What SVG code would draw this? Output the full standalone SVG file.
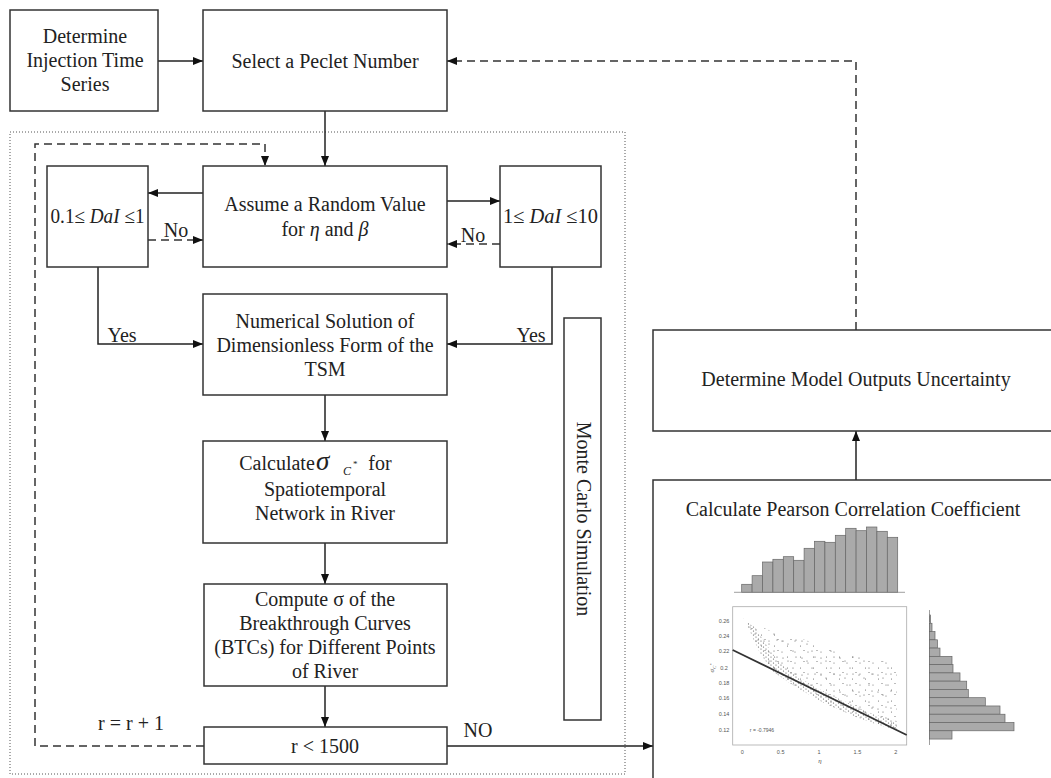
<svg xmlns="http://www.w3.org/2000/svg" width="1051" height="778" viewBox="0 0 1051 778">
<style>
.box{fill:#fff;stroke:#333;stroke-width:1.5}
.t{font-family:"Liberation Serif","Times New Roman",serif;font-size:20px;fill:#222;text-anchor:middle}
.ln{stroke:#222;stroke-width:1.5;fill:none}
.dash{stroke:#333;stroke-width:1.5;fill:none;stroke-dasharray:8 5}
.bar{fill:#aaa;stroke:#666;stroke-width:0.7}
.tk{font-family:"Liberation Sans",Arial,sans-serif;font-size:5.5px;fill:#555;text-anchor:middle}
</style>
<defs>
<marker id="ah" viewBox="0 0 10 8" refX="10" refY="4" markerWidth="10" markerHeight="8" markerUnits="userSpaceOnUse" orient="auto">
<path d="M0,0 L10,4 L0,8 z" fill="#111"/>
</marker>
<pattern id="sp1" width="13" height="11" patternUnits="userSpaceOnUse">
<circle cx="2" cy="3" r="0.55" fill="#666"/><circle cx="7.5" cy="8" r="0.55" fill="#666"/><circle cx="11" cy="1.5" r="0.55" fill="#666"/>
</pattern>
<pattern id="sp2" width="19" height="17" patternUnits="userSpaceOnUse">
<circle cx="4" cy="12" r="0.55" fill="#555"/><circle cx="14" cy="5" r="0.55" fill="#555"/><circle cx="9" cy="15" r="0.55" fill="#555"/><circle cx="17" cy="11" r="0.55" fill="#555"/>
</pattern>
<pattern id="dn" width="5" height="4" patternUnits="userSpaceOnUse">
<circle cx="1" cy="1" r="0.6" fill="#555"/><circle cx="3.5" cy="3" r="0.6" fill="#555"/>
</pattern>
</defs>
<rect width="1051" height="778" fill="#fff"/>

<rect id="container" x="10" y="132" width="615" height="642" fill="none" stroke="#555" stroke-width="1" stroke-dasharray="1 2"/>

<g id="connectors">
<path class="ln" d="M158,61 H203" marker-end="url(#ah)"/>
<path class="ln" d="M325,111 V166" marker-end="url(#ah)"/>
<path class="ln" d="M203,193 H148" marker-end="url(#ah)"/>
<path class="dash" d="M148,240 H203" marker-end="url(#ah)"/>
<path class="ln" d="M447,201 H500" marker-end="url(#ah)"/>
<path class="dash" d="M500,244 H447" marker-end="url(#ah)"/>
<path class="ln" d="M98,267 V344 H203" marker-end="url(#ah)"/>
<path class="ln" d="M552,267 V344 H447" marker-end="url(#ah)"/>
<path class="ln" d="M325,395 V441" marker-end="url(#ah)"/>
<path class="ln" d="M325,543 V584" marker-end="url(#ah)"/>
<path class="ln" d="M325,686 V727" marker-end="url(#ah)"/>
<path class="ln" d="M447,746 H653" marker-end="url(#ah)"/>
<path class="dash" d="M204,746 H35 V144 H265 V166" marker-end="url(#ah)"/>
<path class="ln" d="M856,480 V431" marker-end="url(#ah)"/>
<path class="dash" d="M856,330 V61 H447" marker-end="url(#ah)"/>
</g>

<g id="n-determine">
<rect class="box" x="10" y="10" width="148" height="101"/>
<text class="t" x="85" y="43">Determine</text>
<text class="t" x="85" y="67">Injection Time</text>
<text class="t" x="85" y="91">Series</text>
</g>

<g id="n-select">
<rect class="box" x="203" y="10" width="244" height="101"/>
<text class="t" x="325" y="68">Select a Peclet Number</text>
</g>

<g id="n-dai1">
<rect class="box" x="47" y="166" width="101" height="101"/>
<text class="t" x="97.5" y="223" textLength="94" lengthAdjust="spacingAndGlyphs">0.1≤ <tspan font-style="italic">DaI</tspan> ≤1</text>
</g>

<g id="n-assume">
<rect class="box" x="203" y="166" width="244" height="101"/>
<text class="t" x="325" y="211">Assume a Random Value</text>
<text class="t" x="325" y="236">for <tspan font-style="italic">η</tspan> and <tspan font-style="italic">β</tspan></text>
</g>

<g id="n-dai2">
<rect class="box" x="500" y="166" width="101" height="101"/>
<text class="t" x="550.5" y="223" textLength="95" lengthAdjust="spacingAndGlyphs">1≤ <tspan font-style="italic">DaI</tspan> ≤10</text>
</g>

<g id="labels">
<text class="t" x="176" y="237">No</text>
<text class="t" x="473" y="242">No</text>
<text class="t" x="122" y="342">Yes</text>
<text class="t" x="531" y="342">Yes</text>
<text class="t" x="478" y="737">NO</text>
<text class="t" x="131" y="730">r = r + 1</text>
</g>

<g id="n-numerical">
<rect class="box" x="203" y="294" width="244" height="101"/>
<text class="t" x="325" y="328">Numerical Solution of</text>
<text class="t" x="325" y="352">Dimensionless Form of the</text>
<text class="t" x="325" y="376">TSM</text>
</g>

<g id="n-calculate">
<rect class="box" x="203" y="441" width="244" height="102"/>
<text class="t" x="277" y="470">Calculate</text>
<text x="316" y="470" style="font-family:'Liberation Serif',serif;font-size:27px;font-style:italic;fill:#222">σ<tspan x="343" y="475" font-size="12">C</tspan><tspan x="353" y="467" font-size="9" font-style="normal">*</tspan></text>
<text class="t" x="380" y="470">for</text>
<text class="t" x="325" y="496">Spatiotemporal</text>
<text class="t" x="325" y="520">Network in River</text>
</g>

<g id="n-compute">
<rect class="box" x="204" y="584" width="243" height="102"/>
<text class="t" x="325" y="606">Compute σ of the</text>
<text class="t" x="325" y="630">Breakthrough Curves</text>
<text class="t" x="325" y="654">(BTCs) for Different Points</text>
<text class="t" x="325" y="678">of River</text>
</g>

<g id="n-rcheck">
<rect class="box" x="204" y="727" width="243" height="37"/>
<text class="t" x="325" y="753">r &lt; 1500</text>
</g>

<g id="n-montecarlo">
<rect class="box" x="564" y="318" width="37" height="402"/>
<text class="t" transform="translate(577,519) rotate(90)" x="0" y="0">Monte Carlo Simulation</text>
</g>

<g id="n-uncertainty">
<rect class="box" x="653" y="330" width="420" height="101"/>
<text class="t" x="856" y="386">Determine Model Outputs Uncertainty</text>
</g>

<g id="n-pearson">
<rect class="box" x="653" y="480" width="420" height="320"/>
<text class="t" x="853" y="516">Calculate Pearson Correlation Coefficient</text>
<g id="top-hist">
<rect class="bar" x="741.7" y="584.3" width="10.4" height="8"/>
<rect class="bar" x="752.1" y="575.7" width="10.4" height="16.6"/>
<rect class="bar" x="762.5" y="562" width="10.4" height="30.3"/>
<rect class="bar" x="772.9" y="559.3" width="10.4" height="33"/>
<rect class="bar" x="783.3" y="556.7" width="10.4" height="35.6"/>
<rect class="bar" x="793.7" y="560.3" width="10.4" height="32"/>
<rect class="bar" x="804.1" y="548.3" width="10.4" height="44"/>
<rect class="bar" x="814.5" y="541.3" width="10.4" height="51"/>
<rect class="bar" x="824.9" y="542.3" width="10.4" height="50"/>
<rect class="bar" x="835.3" y="535.3" width="10.4" height="57"/>
<rect class="bar" x="845.7" y="528.3" width="10.4" height="64"/>
<rect class="bar" x="856.1" y="530.7" width="10.4" height="61.6"/>
<rect class="bar" x="866.5" y="527" width="10.4" height="65.3"/>
<rect class="bar" x="876.9" y="531.3" width="10.4" height="61"/>
<rect class="bar" x="887.3" y="537.3" width="10.4" height="55"/>
<line x1="734" y1="592.3" x2="905" y2="592.3" stroke="#888" stroke-width="0.8"/>
</g>
<g id="right-hist">
<line x1="929.5" y1="610" x2="929.5" y2="745" stroke="#888" stroke-width="0.8"/>
<rect class="bar" x="929.5" y="615" width="1" height="8.27"/>
<rect class="bar" x="929.5" y="623.27" width="2.5" height="8.27"/>
<rect class="bar" x="929.5" y="631.54" width="5.5" height="8.27"/>
<rect class="bar" x="929.5" y="639.81" width="8" height="8.27"/>
<rect class="bar" x="929.5" y="648.08" width="10.5" height="8.27"/>
<rect class="bar" x="929.5" y="656.35" width="22.5" height="8.27"/>
<rect class="bar" x="929.5" y="664.62" width="23.5" height="8.27"/>
<rect class="bar" x="929.5" y="672.89" width="30.5" height="8.27"/>
<rect class="bar" x="929.5" y="681.16" width="37.2" height="8.27"/>
<rect class="bar" x="929.5" y="689.43" width="38.8" height="8.27"/>
<rect class="bar" x="929.5" y="697.7" width="55.8" height="8.27"/>
<rect class="bar" x="929.5" y="705.97" width="70.5" height="8.27"/>
<rect class="bar" x="929.5" y="714.24" width="75.5" height="8.27"/>
<rect class="bar" x="929.5" y="722.51" width="84.5" height="8.27"/>
<rect class="bar" x="929.5" y="730.78" width="22.5" height="8.27"/>
</g>
<g id="scatter">
<rect x="732.7" y="606.7" width="174" height="138.3" fill="none" stroke="#aaa" stroke-width="0.8"/>
<path d="M742,615 L760,626 L780,635 L806,640 L830,650 L860,657 L897,664 L897,730 L890,728.3 L873.3,723.3 L856.7,717.3 L840,710 L823.3,702.7 L806.7,693.3 L790,683.3 L773.3,671.7 L760,653.3 L750,631.7 Z" fill="url(#sp1)"/>
<path d="M742,615 L760,626 L780,635 L806,640 L830,650 L860,657 L897,664 L897,730 L890,728.3 L873.3,723.3 L856.7,717.3 L840,710 L823.3,702.7 L806.7,693.3 L790,683.3 L773.3,671.7 L760,653.3 L750,631.7 Z" fill="url(#sp2)"/>
<path d="M746,622 L750,631.7 L760,653.3 L773.3,671.7 L790,683.3 L806.7,693.3 L823.3,702.7 L840,710 L856.7,717.3 L873.3,723.3 L890,728.3 L897,730 L897,721 L890,719 L873,714 L856.7,707 L840,699 L823,691 L806.7,682 L790,671 L777,660 L766,644 L755,627 Z" fill="url(#dn)"/>
<line x1="732.7" y1="650" x2="906.7" y2="735" stroke="#333" stroke-width="1.8"/>
<text class="tk" x="724" y="623">0.26</text>
<text class="tk" x="724" y="638">0.24</text>
<text class="tk" x="724" y="653">0.22</text>
<text class="tk" x="724" y="669.5">0.2</text>
<text class="tk" x="724" y="684.5">0.18</text>
<text class="tk" x="724" y="700">0.16</text>
<text class="tk" x="724" y="716">0.14</text>
<text class="tk" x="724" y="731.5">0.12</text>
<text class="tk" x="742.3" y="753.5">0</text>
<text class="tk" x="780.7" y="753.5">0.5</text>
<text class="tk" x="819" y="753.5">1</text>
<text class="tk" x="857.4" y="753.5">1.5</text>
<text class="tk" x="895.7" y="753.5">2</text>
<text class="tk" x="820" y="763" style="font-family:'Liberation Serif',serif;font-style:italic;font-size:7px">η</text>
<text class="tk" transform="translate(714,668) rotate(-90)" style="font-family:'Liberation Serif',serif;font-style:italic;font-size:7px">σ<tspan font-size="5" dy="2">C</tspan><tspan font-size="4" dy="-3">*</tspan></text>
<text class="tk" x="762" y="732" style="font-size:5px">r = -0.7946</text>
</g>
</g>
</svg>
